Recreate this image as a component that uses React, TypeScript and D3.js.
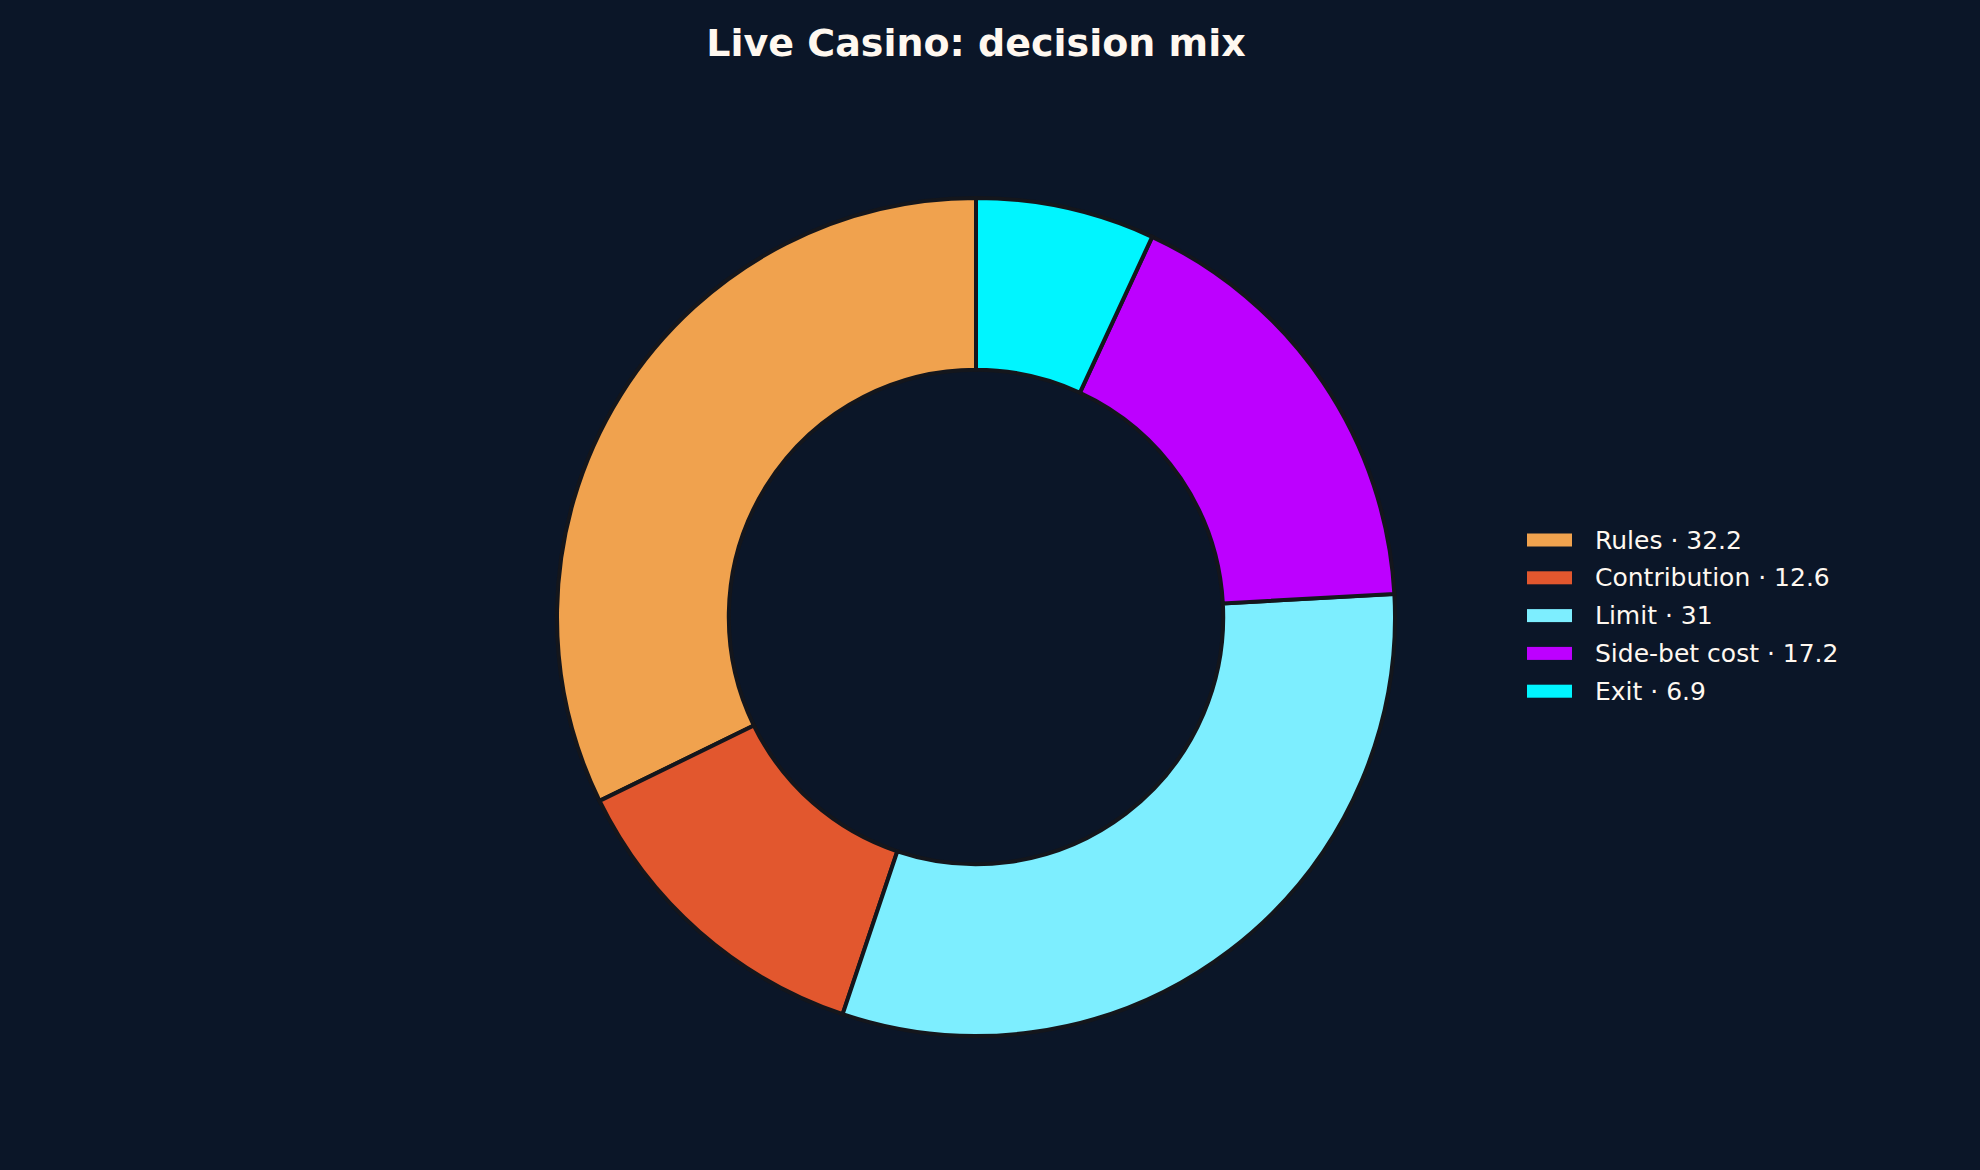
import React, { useEffect, useRef } from 'react';
import * as d3 from 'd3';

const labels = ['Rules', 'Contribution', 'Limit', 'Side-bet cost', 'Exit'];
const values = [32.2, 12.6, 31, 17.2, 6.9];
const colors = ['#F0A24E', '#E2572E', '#7DEEFF', '#BD00FF', '#00F5FF'];

const width = 1980;
const height = 1170;
const bg = '#0B1628';

const App: React.FC = () => {
  const svgRef = useRef<SVGSVGElement>(null);

  useEffect(() => {
    if (!svgRef.current) return;
    const svg = d3.select(svgRef.current);
    svg.selectAll('*').remove();

    svg.append('rect').attr('width', width).attr('height', height).attr('fill', bg);

    // Title
    svg.append('text')
      .text('Live Casino: decision mix')
      .attr('x', 976)
      .attr('y', 56)
      .attr('text-anchor', 'middle')
      .attr('font-family', 'DejaVu Sans')
      .attr('font-weight', 'bold')
      .attr('font-size', 38)
      .attr('fill', '#FFF8F0');

    // Donut, counterclockwise from 12 o'clock
    const cx = 976, cy = 617, outerR = 419, innerR = outerR * 0.59;
    const pie = d3.pie<number>().sort(null).startAngle(0).endAngle(-2 * Math.PI);
    const arcs = pie(values);
    const arc = d3.arc<d3.PieArcDatum<number>>().innerRadius(innerR).outerRadius(outerR);

    const g = svg.append('g').attr('transform', `translate(${cx},${cy})`);
    g.selectAll('path')
      .data(arcs)
      .join('path')
      .attr('d', arc)
      .attr('fill', (_, i) => colors[i])
      .attr('stroke', '#14161C')
      .attr('stroke-width', 4)
      .attr('stroke-linejoin', 'miter');

    // Legend
    const legendY = d3.scaleLinear().domain([0, 1]).range([540, 577.8]);
    const lg = svg.append('g');
    labels.forEach((label, i) => {
      const y = legendY(i);
      lg.append('rect')
        .attr('x', 1527)
        .attr('y', y - 6.5)
        .attr('width', 45)
        .attr('height', 13)
        .attr('fill', colors[i]);
      lg.append('text')
        .text(`${label} · ${values[i]}`)
        .attr('x', 1595)
        .attr('y', y + 8.5)
        .attr('font-family', 'DejaVu Sans')
        .attr('font-size', 25)
        .attr('fill', '#FFF8F0');
    });
  }, []);

  return (
    <svg
      ref={svgRef}
      width={width}
      height={height}
      style={{ position: 'absolute', top: 0, left: 0, display: 'block' }}
    />
  );
};

export default App;
